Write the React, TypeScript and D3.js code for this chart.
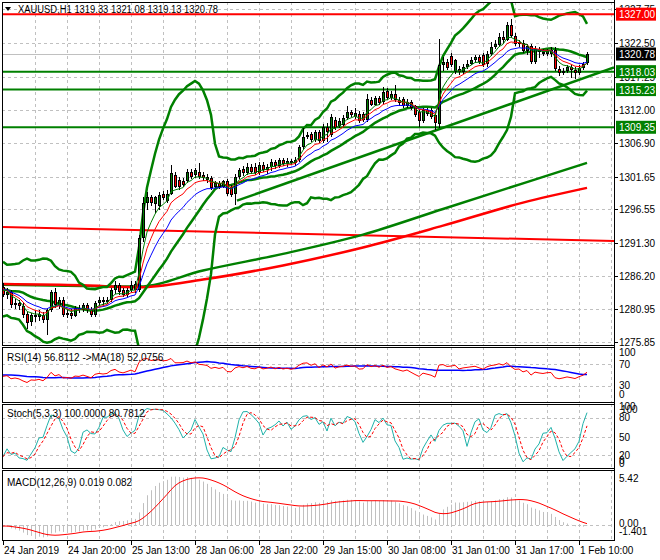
import React from 'react';
import * as d3 from 'd3';

// ---------- DATA ----------
const symbolTitle = 'XAUUSD,H1';
const headerValues = ['1319.33', '1321.08', '1319.13', '1320.78'];

const timeLabels = ['24 Jan 2019', '24 Jan 20:00', '25 Jan 13:00', '28 Jan 06:00', '28 Jan 22:00', '29 Jan 15:00', '30 Jan 08:00', '31 Jan 01:00', '31 Jan 17:00', '1 Feb 10:00'];
const timeLabelBars = [0, 16, 32, 48, 64, 80, 96, 112, 128, 144];

const priceTicks = [1275.85, 1280.95, 1286.20, 1291.30, 1296.55, 1301.65, 1306.90, 1312.00, 1317.25, 1322.50, 1327.75];
const priceTickLabels = ['1275.85', '1280.95', '1286.20', '1291.30', '1296.55', '1301.65', '1306.90', '1312.00', '1317.25', '1322.50', '1327.75'];

const opens = [
  1284.5, 1283.2, 1283.6, 1281.6, 1282.0, 1281.5, 1280.2, 1279.0, 1280.0, 1279.8,
  1280.1, 1279.3, 1280.8, 1283.7, 1281.6, 1282.4, 1280.1, 1280.4, 1279.9, 1281.1,
  1280.9, 1281.6, 1280.9, 1280.1, 1281.9, 1282.4, 1282.1, 1282.4, 1284.0, 1284.7,
  1283.9, 1283.2, 1283.9, 1284.9, 1284.0, 1292.0, 1297.5, 1298.5, 1297.4, 1297.0,
  1299.0, 1297.8, 1299.0, 1301.9, 1301.1, 1300.9, 1300.9, 1302.4, 1301.9, 1302.4,
  1301.9, 1301.6, 1301.4, 1300.1, 1300.6, 1300.1, 1300.9, 1300.1, 1299.0, 1301.6,
  1302.9, 1302.2, 1303.2, 1303.2, 1302.2, 1303.5, 1302.7, 1303.2, 1304.0, 1303.3,
  1304.2, 1303.6, 1304.1, 1303.7, 1304.3, 1306.3, 1307.9, 1308.3, 1307.4, 1308.6,
  1307.2, 1309.4, 1308.1, 1310.5, 1309.6, 1309.7, 1310.8, 1311.8, 1311.0, 1311.5,
  1311.5, 1310.5, 1313.6, 1312.9, 1313.9, 1313.3, 1315.0, 1313.9, 1314.6, 1313.6,
  1313.8, 1312.6, 1313.3, 1312.6, 1311.8, 1310.3, 1312.0, 1312.0, 1311.3, 1309.8,
  1319.0, 1319.6, 1320.4, 1318.0, 1318.5, 1317.9, 1318.8, 1319.3, 1319.8, 1320.3,
  1320.6, 1319.2, 1320.8, 1321.9, 1322.2, 1323.5, 1323.0, 1325.3, 1323.6, 1322.3,
  1322.5, 1321.2, 1322.0, 1319.6, 1321.4, 1321.1, 1320.8, 1320.8, 1321.4, 1318.5,
  1317.8, 1318.2, 1318.7, 1318.3, 1317.8, 1318.6, 1319.33
];
const highs = [
  1285.0, 1284.2, 1283.9, 1282.6, 1282.4, 1281.9, 1280.6, 1280.4, 1280.8, 1280.9,
  1280.6, 1281.2, 1284.0, 1284.2, 1282.9, 1282.8, 1280.9, 1281.0, 1281.5, 1281.6,
  1282.0, 1282.0, 1281.3, 1282.3, 1282.9, 1282.8, 1282.9, 1284.3, 1285.3, 1285.1,
  1284.3, 1284.3, 1285.3, 1285.3, 1292.6, 1298.5, 1299.2, 1298.8, 1298.7, 1299.2,
  1299.4, 1299.6, 1303.5, 1302.3, 1301.6, 1301.4, 1302.8, 1302.8, 1303.0, 1303.7,
  1302.3, 1302.0, 1301.7, 1300.9, 1300.9, 1301.2, 1301.3, 1300.4, 1302.0, 1303.0,
  1303.3, 1303.7, 1303.6, 1303.7, 1303.9, 1303.9, 1303.6, 1304.4, 1304.3, 1304.6,
  1304.5, 1304.5, 1304.4, 1304.7, 1306.6, 1309.2, 1308.6, 1308.6, 1309.0, 1309.0,
  1309.8, 1310.0, 1311.4, 1310.9, 1310.8, 1311.2, 1312.6, 1312.1, 1312.4, 1311.9,
  1311.8, 1314.6, 1314.0, 1314.3, 1314.2, 1315.7, 1315.5, 1315.0, 1316.0, 1314.0,
  1314.1, 1313.7, 1313.6, 1312.9, 1312.2, 1312.3, 1312.4, 1312.4, 1311.6, 1323.2,
  1320.3, 1320.0, 1320.9, 1320.0, 1318.9, 1319.2, 1319.8, 1320.3, 1320.7, 1320.6,
  1321.0, 1321.2, 1322.6, 1323.0, 1324.0, 1324.3, 1325.7, 1326.3, 1324.0, 1323.0,
  1322.9, 1322.4, 1322.3, 1322.0, 1321.8, 1321.5, 1321.6, 1321.9, 1321.8, 1318.9,
  1318.6, 1319.0, 1319.1, 1318.7, 1319.0, 1319.6, 1321.08
];
const lows = [
  1282.8, 1282.6, 1281.2, 1281.0, 1280.9, 1279.6, 1277.9, 1278.3, 1279.0, 1279.2,
  1278.8, 1276.9, 1280.5, 1281.2, 1281.0, 1279.8, 1279.6, 1279.4, 1279.7, 1280.4,
  1280.5, 1280.4, 1279.8, 1279.8, 1281.4, 1281.6, 1281.8, 1282.1, 1283.3, 1283.2,
  1282.8, 1282.9, 1283.6, 1283.5, 1283.6, 1291.5, 1296.5, 1297.0, 1295.9, 1296.4,
  1298.0, 1297.5, 1298.8, 1299.8, 1299.6, 1300.0, 1300.6, 1301.3, 1301.5, 1301.3,
  1301.0, 1300.7, 1299.5, 1299.8, 1299.7, 1299.8, 1298.6, 1298.4, 1297.2, 1301.3,
  1301.8, 1301.9, 1302.1, 1301.9, 1301.9, 1302.4, 1302.1, 1302.6, 1302.9, 1303.0,
  1303.3, 1303.2, 1303.4, 1303.3, 1304.0, 1306.0, 1307.6, 1307.0, 1307.1, 1306.9,
  1306.9, 1307.0, 1307.8, 1308.9, 1309.3, 1309.4, 1310.5, 1311.0, 1310.7, 1310.0,
  1310.2, 1310.2, 1312.6, 1312.6, 1312.9, 1313.0, 1313.6, 1313.6, 1313.3, 1312.7,
  1312.3, 1312.3, 1312.0, 1311.0, 1309.4, 1310.0, 1311.1, 1310.7, 1309.0, 1309.2,
  1318.2, 1318.3, 1318.7, 1317.6, 1317.5, 1317.6, 1318.5, 1319.0, 1319.4, 1319.2,
  1318.8, 1318.8, 1320.4, 1321.5, 1321.9, 1322.4, 1322.8, 1323.3, 1322.0, 1321.9,
  1320.9, 1320.6, 1319.2, 1319.3, 1320.2, 1320.4, 1320.5, 1320.3, 1318.2, 1317.4,
  1317.5, 1317.8, 1317.0, 1316.9, 1317.5, 1318.3, 1319.13
];
const closes = [
  1283.2, 1283.6, 1281.6, 1282.0, 1281.4, 1280.0, 1278.8, 1280.0, 1279.8, 1280.2,
  1279.3, 1280.8, 1283.7, 1281.6, 1282.4, 1280.1, 1280.4, 1279.9, 1281.1, 1280.9,
  1281.6, 1280.9, 1280.1, 1281.9, 1282.4, 1282.1, 1282.4, 1284.0, 1284.7, 1283.6,
  1283.2, 1283.9, 1284.7, 1284.0, 1292.0, 1297.5, 1298.5, 1297.5, 1298.4, 1298.8,
  1298.3, 1299.0, 1302.2, 1300.1, 1300.1, 1300.3, 1302.4, 1301.6, 1302.7, 1301.6,
  1301.4, 1301.1, 1299.8, 1300.6, 1300.1, 1300.9, 1299.0, 1298.8, 1301.6, 1302.7,
  1302.2, 1303.2, 1302.4, 1302.2, 1303.5, 1302.7, 1303.2, 1304.0, 1303.3, 1304.2,
  1303.6, 1304.1, 1303.7, 1304.3, 1306.3, 1307.9, 1308.2, 1307.4, 1308.6, 1307.2,
  1309.4, 1308.6, 1311.0, 1309.2, 1310.3, 1310.8, 1311.8, 1311.3, 1311.6, 1310.3,
  1310.5, 1313.8, 1312.9, 1313.9, 1313.2, 1314.8, 1313.9, 1314.6, 1313.6, 1313.1,
  1312.6, 1313.3, 1312.3, 1311.3, 1310.3, 1312.0, 1311.5, 1311.0, 1310.0, 1319.0,
  1319.6, 1318.6, 1319.0, 1319.8, 1317.9, 1318.8, 1319.3, 1319.8, 1320.3, 1319.6,
  1319.0, 1320.8, 1321.9, 1322.4, 1323.5, 1323.0, 1325.3, 1323.6, 1322.3, 1322.6,
  1321.2, 1322.1, 1319.6, 1321.6, 1321.1, 1320.8, 1321.3, 1321.4, 1318.5, 1317.8,
  1318.2, 1318.7, 1318.3, 1317.8, 1318.6, 1319.3, 1320.78
];
// closes of the hours before the first visible bar (indicator warm-up)
const priorCloses = [
  1283.0, 1283.6, 1284.2, 1283.5, 1284.8, 1285.4, 1284.6, 1285.9, 1286.3, 1285.5,
  1284.9, 1285.8, 1286.4, 1285.7, 1284.8, 1285.3, 1286.0, 1285.2, 1284.4, 1283.6,
  1284.5, 1286.5, 1285.0, 1282.5, 1282.0, 1283.5, 1285.8, 1286.0, 1284.5, 1282.8,
  1282.2, 1283.0, 1285.2, 1286.2, 1285.0, 1283.5, 1282.3, 1283.0, 1284.5, 1285.3
];

// horizontal levels
const resistanceLevel = 1327.00;
const supportLevels = [1318.03, 1315.23, 1309.35];
const supportLabels = ['1318.03', '1315.23', '1309.35'];
const lastPrice = 1320.78;

// long moving averages (bar index, price)
const slowGreenBars = [0, 20, 34, 50, 70, 90, 110, 130, 146];
const slowGreenValues = [1284.8, 1284.6, 1284.5, 1287.0, 1289.6, 1292.6, 1296.6, 1300.6, 1303.8];
const slowRedBars = [0, 20, 34, 50, 70, 90, 110, 130, 146];
const slowRedValues = [1284.9, 1284.7, 1284.4, 1285.6, 1287.8, 1290.6, 1294.0, 1297.6, 1299.9];
const dailyRedBars = [-0.5, 152.75];
const dailyRedValues = [1293.8, 1291.6];
const trendBars = [58.5, 152.75];
const trendValues = [1297.9, 1318.7];

// indicator header values
const rsiTitle = 'RSI(14) 56.8112  ->MA(18) 52.0756';
const stochTitle = 'Stoch(5,3,3) 100.0000 80.7812';
const macdTitle = 'MACD(12,26,9) 0.019 0.082';
const rsiLevels = [70, 30];
const rsiAxis = ['100', '70', '30', '0'];
const stochLevels = [80, 50, 20];
const macdMax = 5.42;
const macdMin = -1.401;

// ---------- INDICATOR MATH ----------
function ema(v: number[], p: number) {
  const k = 2 / (p + 1);
  const out: number[] = [];
  v.forEach((x, i) => out.push(i === 0 ? x : out[i - 1] + k * (x - out[i - 1])));
  return out;
}
function sma(v: number[], p: number) {
  return v.map((_, i) => {
    const s = v.slice(Math.max(0, i - p + 1), i + 1);
    return d3.mean(s) as number;
  });
}
function rsiCalc(v: number[], p: number) {
  const out: number[] = [50];
  let ag = 0, al = 0;
  for (let i = 1; i < v.length; i++) {
    const ch = v[i] - v[i - 1];
    const g = Math.max(ch, 0), l = Math.max(-ch, 0);
    if (i <= p) { ag += g / p; al += l / p; }
    else { ag = (ag * (p - 1) + g) / p; al = (al * (p - 1) + l) / p; }
    out.push(al === 0 ? 100 : 100 - 100 / (1 + ag / al));
  }
  return out;
}

const BB_PERIOD = 20;
const BB_DEV = 3;

export default function App() {
  const n = closes.length;
  const P = priorCloses.length;
  const all = [...priorCloses, ...closes];

  const x = d3.scaleLinear().domain([0, 152.75]).range([3, 614]);
  const y = d3.scaleLinear().domain([1275.85, 1322.5]).range([342, 43]);
  const yR = d3.scaleLinear().domain([0, 100]).range([401.8, 348.3]);
  const yS = d3.scaleLinear().domain([0, 100]).range([468, 405]);
  const yM = d3.scaleLinear().domain([macdMin, macdMax]).range([539, 471]);

  const bars = d3.range(n);
  const visible = (arr: number[]) => arr.slice(P);

  const ema5 = visible(ema(all, 5));
  const ema8 = visible(ema(all, 8));
  const ema13 = visible(ema(all, 13));

  const bbMid: number[] = [], bbUp: number[] = [], bbLo: number[] = [];
  for (let j = P; j < all.length; j++) {
    const w = all.slice(j - BB_PERIOD + 1, j + 1);
    const m = d3.mean(w) as number;
    const sd = Math.sqrt(d3.mean(w.map(v => (v - m) * (v - m))) as number);
    bbMid.push(m); bbUp.push(m + BB_DEV * sd); bbLo.push(m - BB_DEV * sd);
  }

  const rsiAll = rsiCalc(all, 14);
  const rsiMaAll = sma(rsiAll, 18);
  const rsi = visible(rsiAll);
  const rsiMa = visible(rsiMaAll);

  const e12 = ema(all, 12), e26 = ema(all, 26);
  const macdAll = e12.map((v, i) => v - e26[i]);
  const sigAll = sma(macdAll, 9);
  const macd = visible(macdAll);
  const sig = visible(sigAll);

  const rawK = bars.map(i => {
    const lo = d3.min(lows.slice(Math.max(0, i - 4), i + 1)) as number;
    const hi = d3.max(highs.slice(Math.max(0, i - 4), i + 1)) as number;
    return { num: closes[i] - lo, den: hi - lo };
  });
  const stochK = bars.map(i => {
    const w = rawK.slice(Math.max(0, i - 2), i + 1);
    const num = d3.sum(w, d => d.num), den = d3.sum(w, d => d.den);
    return den === 0 ? 50 : (100 * num) / den;
  });
  const stochD = sma(stochK, 3);

  const lineP = (arr: number[], sy: any) =>
    d3.line<number>().x((_, i) => x(i)).y(v => sy(v))(arr) as string;
  const lineXY = (bx: number[], vals: number[], sy: any, curve: any = d3.curveLinear) =>
    d3.line<number>().x((_, i) => x(bx[i])).y(v => sy(v)).curve(curve)(vals) as string;

  const L = 2, R = 614;
  const font = "'Liberation Sans', Arial, sans-serif";
  const gridColor = '#c0c0c0';
  const vGrid = d3.range(1, 20).map(k => 3 + 32 * k);

  const panels = [
    { top: 2, bottom: 345 },
    { top: 347, bottom: 402 },
    { top: 404, bottom: 468 },
    { top: 470, bottom: 540 },
  ];

  const greenC = '#008000';
  const redC = '#ff0000';

  return (
    <svg width={660} height={560} style={{ position: 'absolute', left: 0, top: 0, background: '#fff' }} fontFamily={font}>
      <rect x={0} y={0} width={660} height={560} fill="#fff" />
      <defs>
        <clipPath id="clipMain"><rect x={L} y={panels[0].top} width={R - L} height={panels[0].bottom - panels[0].top} /></clipPath>
        <clipPath id="clipRsi"><rect x={L} y={panels[1].top} width={R - L} height={panels[1].bottom - panels[1].top} /></clipPath>
        <clipPath id="clipSto"><rect x={L} y={panels[2].top} width={R - L} height={panels[2].bottom - panels[2].top} /></clipPath>
        <clipPath id="clipMacd"><rect x={L} y={panels[3].top} width={R - L} height={panels[3].bottom - panels[3].top} /></clipPath>
      </defs>

      {/* vertical grid */}
      {panels.map((p, pi) => vGrid.map(gx => (
        <line key={`vg${pi}-${gx}`} x1={gx + 0.5} x2={gx + 0.5} y1={p.top} y2={p.bottom} stroke={gridColor} strokeDasharray="3,3" />
      )))}
      {/* main horizontal grid */}
      {priceTicks.map(t => (
        <line key={`hg${t}`} x1={L} x2={R} y1={Math.round(y(t)) + 0.5} y2={Math.round(y(t)) + 0.5} stroke={gridColor} strokeDasharray="3,3" />
      ))}
      {rsiLevels.map(t => (
        <line key={`rg${t}`} x1={L} x2={R} y1={Math.round(yR(t)) + 0.5} y2={Math.round(yR(t)) + 0.5} stroke={gridColor} strokeDasharray="3,3" />
      ))}
      {stochLevels.map(t => (
        <line key={`sg${t}`} x1={L} x2={R} y1={Math.round(yS(t)) + 0.5} y2={Math.round(yS(t)) + 0.5} stroke={gridColor} strokeDasharray="3,3" />
      ))}
      <line x1={L} x2={R} y1={Math.round(yM(0)) + 0.5} y2={Math.round(yM(0)) + 0.5} stroke={gridColor} strokeDasharray="3,3" />

      {/* MAIN PANEL */}
      <g clipPath="url(#clipMain)">
        <line x1={L} x2={R} y1={Math.round(y(lastPrice)) + 0.5} y2={Math.round(y(lastPrice)) + 0.5} stroke="#c0c0c0" />
        <path d={lineXY(dailyRedBars, dailyRedValues, y)} fill="none" stroke={redC} strokeWidth={2} />
        <path d={lineXY(slowGreenBars, slowGreenValues, y, d3.curveMonotoneX)} fill="none" stroke={greenC} strokeWidth={2.5} />
        <path d={lineXY(slowRedBars, slowRedValues, y, d3.curveMonotoneX)} fill="none" stroke={redC} strokeWidth={2.5} />
        <path d={lineXY(trendBars, trendValues, y)} fill="none" stroke={greenC} strokeWidth={2.5} />
        <path d={lineP(bbUp, y)} fill="none" stroke={greenC} strokeWidth={2.5} />
        <path d={lineP(bbMid, y)} fill="none" stroke={greenC} strokeWidth={2.5} />
        <path d={lineP(bbLo, y)} fill="none" stroke={greenC} strokeWidth={2.5} />
        <line x1={L} x2={R} y1={y(resistanceLevel)} y2={y(resistanceLevel)} stroke={redC} strokeWidth={2} />
        {supportLevels.map(s => (
          <line key={`s${s}`} x1={L} x2={R} y1={y(s)} y2={y(s)} stroke={greenC} strokeWidth={2} />
        ))}
        {bars.map(i => {
          const cx = Math.round(x(i));
          const o = y(opens[i]), c = y(closes[i]);
          const top = Math.round(Math.min(o, c)), bot = Math.max(Math.round(Math.max(o, c)), top + 1);
          const bull = closes[i] >= opens[i];
          return (
            <g key={`c${i}`}>
              <line x1={cx + 0.5} x2={cx + 0.5} y1={Math.round(y(highs[i]))} y2={Math.round(y(lows[i]))} stroke="#000" />
              <rect x={cx - 1} y={top} width={3} height={bot - top} fill={bull ? greenC : redC} />
              <rect x={cx - 0.5} y={top + 0.5} width={2} height={Math.max(bot - top - 1, 0)} fill="none" stroke="#000" strokeWidth={1} />
            </g>
          );
        })}
        <path d={lineP(ema13, y)} fill="none" stroke="#0000ff" strokeWidth={1} />
        <path d={lineP(ema8, y)} fill="none" stroke={redC} strokeWidth={1} />
        <path d={lineP(ema5, y)} fill="none" stroke={greenC} strokeWidth={1} />
      </g>

      {/* RSI */}
      <g clipPath="url(#clipRsi)">
        <path d={lineP(rsiMa, yR)} fill="none" stroke="#0000ff" strokeWidth={1.5} />
        <path d={lineP(rsi, yR)} fill="none" stroke={redC} strokeWidth={1} />
      </g>
      {/* Stochastic */}
      <g clipPath="url(#clipSto)">
        <path d={lineP(stochK, yS)} fill="none" stroke="#20b2aa" strokeWidth={1} />
        <path d={lineP(stochD, yS)} fill="none" stroke={redC} strokeWidth={1} strokeDasharray="3,2" />
      </g>
      {/* MACD */}
      <g clipPath="url(#clipMacd)">
        {bars.map(i => (
          <line key={`m${i}`} x1={Math.round(x(i)) + 0.5} x2={Math.round(x(i)) + 0.5} y1={yM(0)} y2={yM(macd[i])} stroke="#c0c0c0" />
        ))}
        <path d={lineP(sig, yM)} fill="none" stroke={redC} strokeWidth={1} />
      </g>

      {/* panel borders */}
      {panels.map((p, pi) => (
        <rect key={`pb${pi}`} x={L + 0.5} y={p.top + 0.5} width={R - L} height={p.bottom - p.top} fill="none" stroke="#000" />
      ))}

      {/* titles */}
      <path d="M5,7 L11,7 L8,11 Z" fill="#000" />
      <text x={18} y={13} fontSize={10} fill="#000" textLength={200} lengthAdjust="spacingAndGlyphs">{symbolTitle}  {headerValues.join(' ')}</text>
      <text x={7} y={361} fontSize={10} fill="#000">{rsiTitle}</text>
      <text x={7} y={417} fontSize={10} fill="#000">{stochTitle}</text>
      <text x={7} y={486} fontSize={10} fill="#000">{macdTitle}</text>

      {/* price axis */}
      {priceTicks.map((t, i) => (
        <g key={`pt${t}`}>
          <line x1={R} x2={R + 4} y1={Math.round(y(t)) + 0.5} y2={Math.round(y(t)) + 0.5} stroke="#000" />
          <text x={619} y={y(t) + 4} fontSize={10} fill="#000">{priceTickLabels[i]}</text>
        </g>
      ))}
      {[{ v: resistanceLevel, c: redC, t: '1327.00' }, { v: lastPrice, c: '#000', t: '1320.78' }, ...supportLevels.map((s, i) => ({ v: s, c: greenC, t: supportLabels[i] }))].map(b => (
        <g key={`box${b.t}`}>
          <rect x={616} y={y(b.v) - 6.5} width={40} height={13} fill={b.c} />
          <text x={619} y={y(b.v) + 4} fontSize={10} fill="#fff">{b.t}</text>
        </g>
      ))}
      {/* RSI axis */}
      {[100, 70, 30, 0].map((v, i) => (
        <text key={`ra${v}`} x={619} y={[356, 368, 389, 398][i]} fontSize={10} fill="#000">{rsiAxis[i]}</text>
      ))}
      {/* Stoch axis */}
      <text x={619} y={410} fontSize={10} fill="#000">100</text>
      <text x={621} y={413} fontSize={10} fill="#000">100</text>
      <text x={619} y={421} fontSize={10} fill="#000">80</text>
      <text x={619} y={441} fontSize={10} fill="#000">50</text>
      <text x={619} y={459} fontSize={10} fill="#000">20</text>
      <text x={619} y={464} fontSize={10} fill="#000">0</text>
      <text x={619} y={467} fontSize={10} fill="#000">0</text>
      {/* MACD axis */}
      <text x={619} y={482} fontSize={10} fill="#000">{macdMax.toFixed(2)}</text>
      <text x={619} y={527} fontSize={10} fill="#000">0.00</text>
      <text x={619} y={535} fontSize={10} fill="#000">{macdMin.toFixed(3)}</text>
      <line x1={R + 0.5} x2={R + 0.5} y1={0} y2={541} stroke="#000" />

      {/* time axis */}
      {timeLabelBars.map((b, i) => (
        <g key={`tl${b}`}>
          <line x1={Math.round(x(b)) + 0.5} x2={Math.round(x(b)) + 0.5} y1={540} y2={545} stroke="#000" />
          <text x={Math.round(x(b)) + 1} y={554} fontSize={10} fill="#000">{timeLabels[i]}</text>
        </g>
      ))}
    </svg>
  );
}
